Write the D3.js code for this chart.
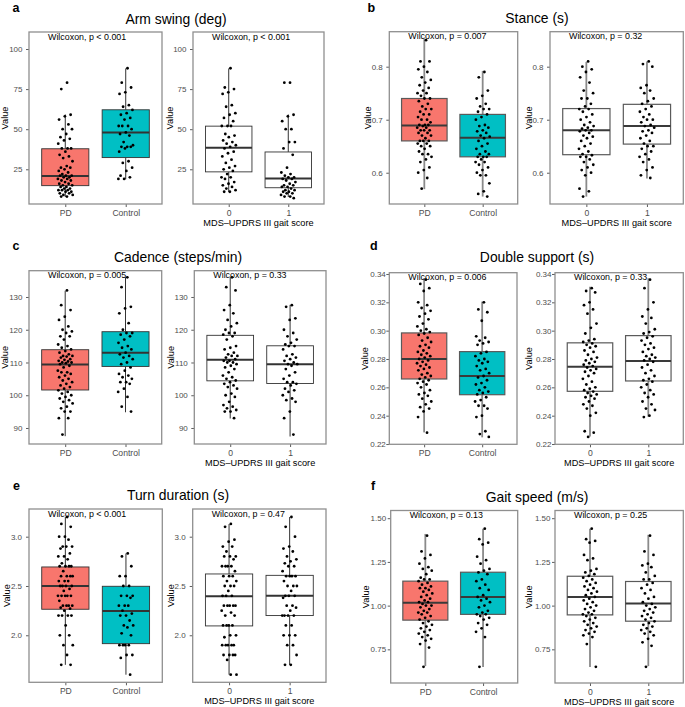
<!DOCTYPE html>
<html><head><meta charset="utf-8">
<script src="https://cdn.jsdelivr.net/npm/d3@7"></script>
<style>
body{margin:0;background:#fff}
svg{display:block}
text{font-family:"Liberation Sans",Arial,Helvetica,sans-serif}
</style>
</head><body>
<svg id="chart" width="685" height="707"></svg>
<script>
// ---------------- DATA ----------------
const panelLetters = ['a','b','c','d','e','f'];
const panelTitles = ['Arm swing (deg)','Stance (s)','Cadence (steps/min)','Double support (s)','Turn duration (s)','Gait speed (m/s)'];
const groupCategories = ['PD','Control'];
const scoreCategories = ['0','1'];
const scoreAxisTitle = 'MDS\u2013UPDRS III gait score';
const yAxisTitle = 'Value';
const groupPLabels = ['Wilcoxon, p < 0.001','Wilcoxon, p = 0.007','Wilcoxon, p = 0.005','Wilcoxon, p = 0.006','Wilcoxon, p < 0.001','Wilcoxon, p = 0.13'];
const scorePLabels = ['Wilcoxon, p < 0.001','Wilcoxon, p = 0.32','Wilcoxon, p = 0.33','Wilcoxon, p = 0.33','Wilcoxon, p = 0.47','Wilcoxon, p = 0.25'];

// y-axis ticks and labels
const armSwingTicks = [25,50,75,100];
const armSwingTickLabels = ['25','50','75','100'];
const stanceTicks = [0.6,0.7,0.8];
const stanceTickLabels = ['0.6','0.7','0.8'];
const cadenceTicks = [90,100,110,120,130];
const cadenceTickLabels = ['90','100','110','120','130'];
const doubleSupportTicks = [0.22,0.24,0.26,0.28,0.30,0.32,0.34];
const doubleSupportTickLabels = ['0.22','0.24','0.26','0.28','0.30','0.32','0.34'];
const turnTicks = [2.0,2.5,3.0];
const turnTickLabels = ['2.0','2.5','3.0'];
const speedTicks = [0.75,1.00,1.25,1.50];
const speedTickLabels = ['0.75','1.00','1.25','1.50'];

// y domains (axis ranges)
const armSwingRange = [3.36,110.6];
const stanceRange = [0.541,0.866];
const cadenceRange = [85.11,138.03];
const doubleSupportRange = [0.2198,0.3409];
const turnRange = [1.523,3.281];
const speedRange = [0.5575,1.544];

// box statistics [lower whisker, Q1, median, Q3, upper whisker]
const armSwingBoxGroup = [[7.7,14.8,20.8,37.8,59.2],[18.8,32.3,47.9,62.1,87.9]];
const armSwingBoxScore = [[10.8,23.4,38.5,51.9,87.9],[7.7,13.5,19.3,35.8,59.2]];
const stanceBoxGroup = [[0.569,0.66,0.689,0.74,0.853],[0.555,0.63,0.666,0.71,0.792]];
const stanceBoxScore = [[0.555,0.634,0.68,0.721,0.809],[0.589,0.654,0.688,0.729,0.81]];
const cadenceBoxGroup = [[87.5,101.6,109.4,113.9,131.9],[94.8,108.8,113.0,119.4,136.0]];
const cadenceBoxScore = [[92.9,104.4,110.8,118.3,136.0],[87.4,103.6,109.5,115.1,127.6]];
const doubleSupportBoxGroup = [[0.2282,0.2659,0.28,0.2984,0.337],[0.2247,0.2548,0.268,0.2852,0.3205]];
const doubleSupportBoxScore = [[0.2253,0.2572,0.2745,0.2914,0.331],[0.2393,0.2645,0.2786,0.2965,0.337]];
const turnBoxGroup = [[1.7,2.264,2.5,2.693,3.2],[1.6,1.915,2.247,2.497,2.83]];
const turnBoxScore = [[1.6,2.095,2.395,2.622,3.128],[1.7,2.2,2.402,2.608,3.2]];
const speedBoxGroup = [[0.654,0.917,1.016,1.14,1.41],[0.649,0.95,1.049,1.191,1.439]];
const speedBoxScore = [[0.649,0.947,1.05,1.168,1.439],[0.654,0.911,1.012,1.138,1.405]];

// individual observations
const armSwingPD = [79,75,59,58,56,53,50,50,47,45,44,43,41,38,38,38,36,34,33,32,30,27,26,26,25,24,23,22,21,21,21,20,20,19,19,18,18,17,16,16,15,15,14,14,13,13,12,12,12,11,11,10,10,9,9,8,8];
const armSwingControl = [88,79,76,73,72,65,64,62,60,59,57,56,52,52,52,50,48,47,46,42,40,39,39,39,38,36,30,29,26,24,21,20,19,19];
const armSwingScore0 = [88,76,75,73,72,65,64,60,59,57,55,52,52,52,47,46,45,43,42,41,40,39,38,36,35,33,31,29,27,26,25,24,22,20,20,19,17,16,15,14,13,12,11,11];
const armSwingScore1 = [79,79,59,58,55,50,50,42,42,38,34,26,23,22,21,20,20,19,19,18,17,16,15,15,14,14,13,12,12,11,11,10,10,9,8,8,7];

const stancePD = [0.85,0.81,0.81,0.80,0.795,0.79,0.78,0.775,0.77,0.765,0.76,0.755,0.75,0.75,0.745,0.74,0.74,0.735,0.73,0.725,0.72,0.72,0.715,0.71,0.71,0.705,0.70,0.70,0.695,0.69,0.69,0.69,0.688,0.685,0.685,0.68,0.68,0.68,0.675,0.675,0.67,0.67,0.665,0.66,0.66,0.66,0.655,0.655,0.65,0.65,0.645,0.64,0.635,0.635,0.63,0.625,0.62,0.61,0.605,0.60,0.59,0.57];
const stanceControl = [0.79,0.78,0.755,0.745,0.74,0.73,0.725,0.72,0.72,0.715,0.71,0.705,0.70,0.69,0.688,0.685,0.68,0.678,0.675,0.67,0.668,0.665,0.66,0.655,0.65,0.645,0.64,0.635,0.635,0.63,0.63,0.63,0.625,0.62,0.62,0.615,0.61,0.605,0.60,0.595,0.595,0.58,0.565,0.56,0.555];
const stanceScore0 = [0.81,0.80,0.795,0.79,0.78,0.77,0.755,0.75,0.74,0.74,0.73,0.725,0.72,0.72,0.715,0.71,0.705,0.70,0.695,0.69,0.688,0.685,0.683,0.68,0.68,0.678,0.675,0.67,0.668,0.665,0.66,0.655,0.65,0.645,0.64,0.635,0.633,0.63,0.63,0.625,0.62,0.615,0.61,0.605,0.60,0.595,0.57,0.565,0.555];
const stanceScore1 = [0.81,0.805,0.80,0.765,0.76,0.755,0.75,0.74,0.735,0.73,0.725,0.72,0.715,0.71,0.705,0.70,0.70,0.695,0.69,0.688,0.685,0.68,0.678,0.675,0.67,0.665,0.66,0.655,0.65,0.65,0.645,0.64,0.635,0.63,0.625,0.62,0.61,0.605,0.595,0.59];

const cadencePD = [132,127.5,126,124,123,121,120,119.5,119,118,118,117,115.5,115,114.5,114,113.5,113,112.5,112,112,111.8,111.5,111,110.8,110.5,110.3,110,110,109.8,109.5,109,108.5,107.5,107,107,106.5,106,105.5,105,104.5,104,103.5,103,102.5,102,101.5,101,100.5,100,99.5,99,98.5,98,97.5,96.5,96,95,95,93,93,88];
const cadenceControl = [136,133,127,126.5,125,122,120,119,119,118.5,118,117,116,115,114.5,114,113,112.5,112,111.5,111,110,109.5,108.5,107.5,106.5,106,105.5,105,104,104,103.5,102,101,99.5,96.5,95];
const cadenceScore0 = [136,133,132,127.5,126,125,123,122,121,120,119,119,118.5,118,117,115,114.5,114,113,112.5,112,112,111.5,111,110.5,110.5,110,110,109.5,109,108.5,108,107,106,105.5,105,104.5,104,103.5,103,102.5,102,100.5,100,99.5,98,97,96.5,96,95.5,95,95,93];
const cadenceScore1 = [127.5,127,123.5,123,120,119,118,117,116,115.5,115,115,114,112.5,112,111.5,111,110.5,110,109.5,109.5,109,108,107,106,105,104,104,103.5,103,102,101.5,101,100,99,98.5,98,95,93,88];

const doubleSupportPD = [0.336,0.333,0.33,0.328,0.32,0.318,0.316,0.314,0.312,0.31,0.308,0.305,0.303,0.301,0.30,0.299,0.298,0.297,0.295,0.293,0.292,0.29,0.289,0.288,0.286,0.285,0.284,0.283,0.282,0.281,0.28,0.279,0.278,0.277,0.276,0.275,0.274,0.273,0.272,0.27,0.269,0.268,0.267,0.266,0.265,0.264,0.263,0.262,0.26,0.258,0.256,0.255,0.254,0.252,0.25,0.248,0.246,0.245,0.243,0.239,0.228];
const doubleSupportControl = [0.32,0.315,0.313,0.307,0.296,0.295,0.293,0.292,0.291,0.29,0.285,0.284,0.282,0.28,0.279,0.278,0.277,0.275,0.273,0.272,0.27,0.268,0.267,0.265,0.263,0.262,0.26,0.258,0.257,0.256,0.255,0.253,0.251,0.25,0.247,0.247,0.245,0.24,0.239,0.229,0.227,0.225];
const doubleSupportScore0 = [0.33,0.328,0.327,0.32,0.318,0.315,0.312,0.305,0.302,0.298,0.294,0.293,0.292,0.291,0.29,0.289,0.288,0.286,0.285,0.283,0.281,0.28,0.279,0.278,0.277,0.276,0.275,0.274,0.273,0.272,0.271,0.27,0.268,0.266,0.264,0.262,0.26,0.259,0.258,0.257,0.256,0.255,0.254,0.253,0.252,0.25,0.248,0.247,0.245,0.242,0.24,0.229,0.228,0.225];
const doubleSupportScore1 = [0.336,0.33,0.32,0.315,0.31,0.309,0.305,0.301,0.299,0.298,0.296,0.295,0.293,0.291,0.29,0.288,0.287,0.285,0.283,0.282,0.281,0.28,0.279,0.278,0.276,0.274,0.272,0.27,0.268,0.266,0.265,0.264,0.262,0.26,0.258,0.256,0.255,0.253,0.25,0.248,0.245,0.244,0.24,0.239];

const turnPD = [3.2,3.13,3.1,3.0,3.0,2.97,2.9,2.9,2.9,2.88,2.83,2.8,2.8,2.77,2.73,2.7,2.7,2.7,2.7,2.65,2.6,2.6,2.6,2.6,2.55,2.55,2.55,2.5,2.5,2.5,2.5,2.47,2.45,2.4,2.4,2.4,2.4,2.4,2.35,2.3,2.3,2.3,2.3,2.28,2.27,2.25,2.2,2.2,2.2,2.2,2.1,2.0,2.0,1.9,1.9,1.8,1.7,1.7];
const turnControl = [2.83,2.8,2.7,2.6,2.6,2.5,2.5,2.4,2.4,2.4,2.38,2.3,2.3,2.3,2.25,2.22,2.2,2.2,2.15,2.1,2.1,2.08,2.02,2.0,1.9,1.9,1.9,1.9,1.8,1.8,1.77,1.6];
const turnScore0 = [3.13,3.1,2.97,2.95,2.9,2.9,2.85,2.8,2.8,2.8,2.77,2.7,2.7,2.7,2.7,2.65,2.6,2.6,2.6,2.55,2.55,2.5,2.5,2.5,2.45,2.4,2.4,2.4,2.3,2.3,2.3,2.3,2.3,2.25,2.23,2.2,2.2,2.1,2.1,2.1,2.1,2.0,2.0,1.98,1.9,1.9,1.9,1.9,1.9,1.8,1.8,1.8,1.8,1.75,1.6,1.6];
const turnScore1 = [3.2,3.1,3.0,2.9,2.88,2.85,2.8,2.77,2.75,2.73,2.7,2.7,2.65,2.6,2.6,2.6,2.6,2.55,2.5,2.5,2.5,2.45,2.4,2.4,2.4,2.38,2.3,2.3,2.28,2.25,2.2,2.2,2.2,2.2,2.1,2.1,2.0,2.0,2.0,1.9,1.9,1.8,1.7,1.7];

const speedPD = [1.40,1.31,1.29,1.27,1.24,1.22,1.21,1.2,1.18,1.16,1.15,1.15,1.14,1.13,1.12,1.11,1.1,1.1,1.09,1.08,1.07,1.06,1.05,1.04,1.03,1.02,1.02,1.01,1.0,1.0,0.99,0.98,0.97,0.96,0.96,0.95,0.94,0.93,0.92,0.91,0.9,0.89,0.88,0.87,0.86,0.85,0.84,0.83,0.82,0.81,0.8,0.78,0.76,0.65];
const speedControl = [1.44,1.38,1.36,1.35,1.28,1.26,1.24,1.21,1.2,1.19,1.18,1.15,1.14,1.12,1.1,1.09,1.06,1.05,1.04,1.03,1.02,1.0,0.99,0.97,0.96,0.95,0.95,0.94,0.93,0.92,0.9,0.89,0.87,0.85,0.82,0.65];
const speedScore0 = [1.44,1.38,1.37,1.36,1.29,1.27,1.26,1.21,1.2,1.19,1.18,1.17,1.16,1.15,1.14,1.13,1.12,1.11,1.1,1.09,1.08,1.07,1.06,1.05,1.04,1.03,1.02,1.01,1.0,0.99,0.98,0.97,0.96,0.95,0.95,0.94,0.93,0.92,0.91,0.9,0.89,0.88,0.87,0.86,0.85,0.84,0.83,0.82,0.78,0.65];
const speedScore1 = [1.40,1.31,1.29,1.24,1.23,1.22,1.19,1.17,1.15,1.15,1.13,1.12,1.1,1.09,1.07,1.05,1.04,1.02,1.01,1.0,0.99,0.98,0.97,0.96,0.95,0.94,0.93,0.92,0.91,0.9,0.89,0.88,0.87,0.86,0.85,0.84,0.83,0.81,0.79,0.77,0.65];

const groupColors = ['#F8766D','#00BFC4'];

// --------------- LAYOUT (pixel positions) ---------------
const layout = [
  {lx:12.5, ly:11.5, tx:176,  ty:23.5, top:32,    bottom:204,   left:[29,162],     right:[193,324],     vx:[5,170],     gap:6.5, grayStyle:false},
  {lx:367.5,ly:11.5, tx:537,  ty:23.3, top:31.7,  bottom:204,   left:[389.3,517.7],right:[550,683.3],   vx:[368,528.7], gap:6.5, grayStyle:true},
  {lx:12.5, ly:250,  tx:178,  ty:261.5,top:270.7, bottom:444,   left:[29,161.7],   right:[194.3,326],   vx:[5,171],     gap:6.5, grayStyle:false},
  {lx:370,  ly:250,  tx:537,  ty:262,  top:272.7, bottom:444.3, left:[389.3,517],  right:[555,683.3],   vx:[365,528.3], gap:3.5, grayStyle:true},
  {lx:13,   ly:489.5,tx:178,  ty:500,  top:509,   bottom:682.3, left:[29,162.3],   right:[192.7,326],   vx:[6.7,171],   gap:7,   grayStyle:false},
  {lx:371,  ly:490,  tx:537,  ty:501.5,top:510.5, bottom:683,   left:[390.7,517.7],right:[555,683.3],   vx:[365.7,529], gap:4.5, grayStyle:true}
];

const panelTicks = [armSwingTicks,stanceTicks,cadenceTicks,doubleSupportTicks,turnTicks,speedTicks];
const panelTickLabels = [armSwingTickLabels,stanceTickLabels,cadenceTickLabels,doubleSupportTickLabels,turnTickLabels,speedTickLabels];
const panelRanges = [armSwingRange,stanceRange,cadenceRange,doubleSupportRange,turnRange,speedRange];
const panelBoxGroup = [armSwingBoxGroup,stanceBoxGroup,cadenceBoxGroup,doubleSupportBoxGroup,turnBoxGroup,speedBoxGroup];
const panelBoxScore = [armSwingBoxScore,stanceBoxScore,cadenceBoxScore,doubleSupportBoxScore,turnBoxScore,speedBoxScore];
const panelPointsGroup = [[armSwingPD,armSwingControl],[stancePD,stanceControl],[cadencePD,cadenceControl],[doubleSupportPD,doubleSupportControl],[turnPD,turnControl],[speedPD,speedControl]];
const panelPointsScore = [[armSwingScore0,armSwingScore1],[stanceScore0,stanceScore1],[cadenceScore0,cadenceScore1],[doubleSupportScore0,doubleSupportScore1],[turnScore0,turnScore1],[speedScore0,speedScore1]];

const svg = d3.select('#chart');
const FONT = '"Liberation Sans",Arial,Helvetica,sans-serif';

function drawSubplot(g, L, pi, xr, cats, boxes, points, fills, pLabel, vx, showXTitle) {
  const y = d3.scaleLinear().domain(panelRanges[pi]).range([L.bottom, L.top]);
  const x = d3.scaleLinear().domain([0.4, 2.6]).range(xr);
  const boxW = 0.78;
  const st = L.grayStyle
    ? {box:'#5a5a5a', boxW:1.2, wh:'#8a8a8a', whW:1.8, med:'#3a3a3a'}
    : {box:'#333333', boxW:0.9, wh:'#333333', whW:1.0, med:'#333333'};

  // y axis
  const yAxis = d3.axisLeft(y).tickValues(panelTicks[pi])
    .tickFormat((d,i)=>panelTickLabels[pi][i]).tickSize(3).tickPadding(L.gap-3);
  const ya = g.append('g').attr('transform',`translate(${xr[0]},0)`).call(yAxis);
  ya.select('.domain').remove();
  ya.selectAll('line').attr('stroke','#333').attr('stroke-width',0.8);
  ya.selectAll('text').attr('font-size',8).attr('fill','#4d4d4d').attr('font-family',FONT);

  // x axis
  const xAxis = d3.axisBottom(x).tickValues([1,2]).tickFormat((d,i)=>cats[i]).tickSize(3).tickPadding(2.5);
  const xa = g.append('g').attr('transform',`translate(0,${L.bottom})`).call(xAxis);
  xa.select('.domain').remove();
  xa.selectAll('line').attr('stroke','#333').attr('stroke-width',0.8);
  xa.selectAll('text').attr('font-size',8.6).attr('fill','#4d4d4d').attr('font-family',FONT);

  // boxes
  boxes.forEach((b,i)=>{
    const cx = x(i+1);
    g.append('line').attr('x1',cx).attr('x2',cx).attr('y1',y(b[0])).attr('y2',y(b[1]))
      .attr('stroke',st.wh).attr('stroke-width',st.whW);
    g.append('line').attr('x1',cx).attr('x2',cx).attr('y1',y(b[3])).attr('y2',y(b[4]))
      .attr('stroke',st.wh).attr('stroke-width',st.whW);
    g.append('rect').attr('x',x(i+1-boxW/2)).attr('width',x(i+1+boxW/2)-x(i+1-boxW/2))
      .attr('y',y(b[3])).attr('height',y(b[1])-y(b[3]))
      .attr('fill',fills[i]).attr('stroke',st.box).attr('stroke-width',st.boxW);
    g.append('line').attr('x1',x(i+1-boxW/2)).attr('x2',x(i+1+boxW/2)).attr('y1',y(b[2])).attr('y2',y(b[2]))
      .attr('stroke',st.med).attr('stroke-width',2);
  });

  // jittered points (deterministic low-discrepancy jitter)
  points.forEach((arr,i)=>{
    g.selectAll(null).data(arr).enter().append('circle')
      .attr('cx',(d,k)=>x(i+1 + ((((k+1)*0.6180339887)%1)-0.5)*0.25))
      .attr('cy',d=>y(d)).attr('r',1.4).attr('fill','#000');
  });

  // panel border
  g.append('rect').attr('x',xr[0]).attr('y',L.top).attr('width',xr[1]-xr[0]).attr('height',L.bottom-L.top)
    .attr('fill','none').attr('stroke','#8f8f8f').attr('stroke-width',1.3);

  // p-value label
  g.append('text').attr('x',xr[0]+19).attr('y',L.top+7.5).attr('font-size',8.9).attr('fill','#000')
    .text(pLabel);

  // y title
  const my = (L.top+L.bottom)/2;
  g.append('text').attr('transform',`translate(${vx+3.2},${my}) rotate(-90)`).attr('text-anchor','middle')
    .attr('font-size',9.2).attr('fill','#000').text(yAxisTitle);

  if (showXTitle) {
    g.append('text').attr('x',(xr[0]+xr[1])/2).attr('y',L.bottom+21.8).attr('text-anchor','middle')
      .attr('font-size',9.2).attr('fill','#000').text(scoreAxisTitle);
  }
}

layout.forEach((L,pi)=>{
  const g = svg.append('g');
  g.append('text').attr('x',L.lx).attr('y',L.ly).attr('font-size',12.5).attr('font-weight','bold').text(panelLetters[pi]);
  g.append('text').attr('x',L.tx).attr('y',L.ty).attr('text-anchor','middle').attr('font-size',13.9).attr('fill','#000').text(panelTitles[pi]);
  drawSubplot(g, L, pi, L.left, groupCategories, panelBoxGroup[pi], panelPointsGroup[pi], groupColors, groupPLabels[pi], L.vx[0], false);
  drawSubplot(g, L, pi, L.right, scoreCategories, panelBoxScore[pi], panelPointsScore[pi], ['#ffffff','#ffffff'], scorePLabels[pi], L.vx[1], true);
});
</script>
</body></html>
